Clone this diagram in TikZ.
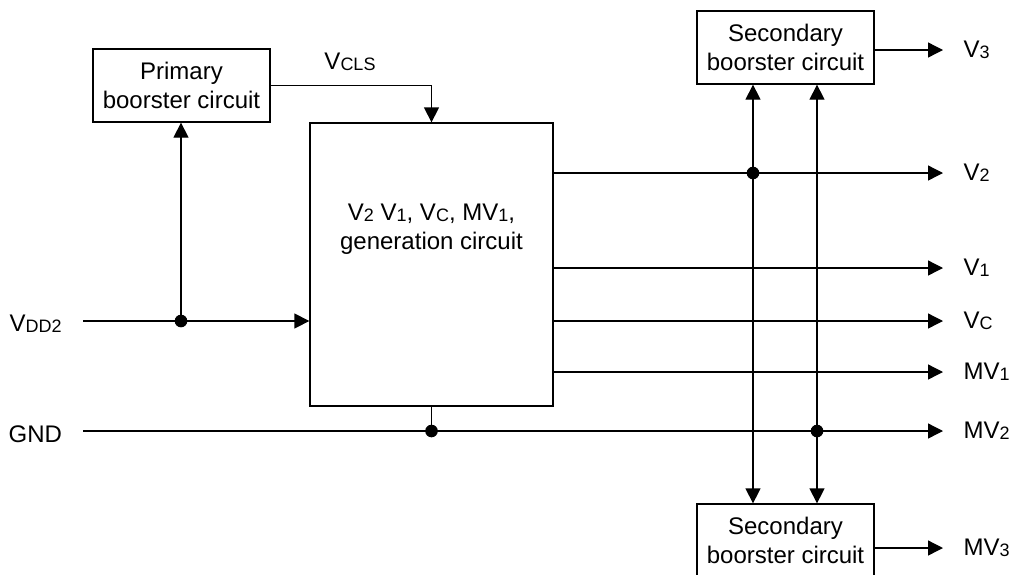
\documentclass[tikz,border=0pt]{standalone}
\usepackage{fontspec}
\setmainfont{Liberation Sans}
\usepackage{tikz}
\usetikzlibrary{arrows.meta,positioning}
% lowered small index, as in V2 or VCLS
\newcommand{\lo}[1]{\raisebox{-0.7pt}{\fontsize{9}{9}\selectfont #1}}
\tikzset{
  gen/.style={
    font=\fontsize{12}{14.5}\selectfont,
    >={Triangle[length=7.5pt,width=7.5pt]},
    line width=0.65pt,
    x=0.5pt, y=-0.5pt
  },
  blk/.style={                     % booster circuit box
    draw, line width=0.65pt,
    align=center,
    inner sep=0pt,
    minimum width=88.5pt,
    minimum height=36.5pt
  },
  bigblk/.style={                  % generation circuit box
    draw, line width=0.65pt,
    inner sep=0pt,
    minimum width=121.5pt,
    minimum height=141.5pt
  },
  sig/.style={->, line width=0.65pt},
  bisig/.style={<->, line width=0.65pt},
  jdot/.style={circle, fill=black, inner sep=0pt, minimum size=6.3pt},
  outlbl/.style={anchor=west, inner sep=0pt},
  inlbl/.style={anchor=west, inner sep=0pt}
}
\begin{document}
\begin{tikzpicture}[gen]
\clip (0,0) rectangle (1011,574);

% boxes
\node[blk] (prim) at (181.5,85.5) {Primary\\boorster circuit};
\node[bigblk] (genc) at (431.5,264.5) {};
\node[align=center, inner sep=0pt] (genlbl) at (431.5,229)
  {V\lo{2} V\lo{1}, V\lo{C}, MV\lo{1},\\generation circuit};
\node[blk] (sectop) at (785.5,47.5) {Secondary\\boorster circuit};
\node[blk] (secbot) at (785.5,540.5) {Secondary\\boorster circuit};

% input side
\node[inlbl] (vdd) at (9,324) {V\lo{DD2}};
\node[inlbl] (gnd) at (8,434) {GND};
\coordinate (vddin) at (83,321);
\coordinate (gndin) at (83,431);
\node[inner sep=0pt] (vcls) at (350,62) {V\lo{CLS}};

% output labels
\node[outlbl] (v3) at (963,50) {V\lo{3}};
\node[outlbl] (v2) at (963,173) {V\lo{2}};
\node[outlbl] (v1) at (963,268) {V\lo{1}};
\node[outlbl] (vc) at (963,321) {V\lo{C}};
\node[outlbl] (mv1) at (963,372) {MV\lo{1}};
\node[outlbl] (mv2) at (963,431) {MV\lo{2}};
\node[outlbl] (mv3) at (963,548) {MV\lo{3}};

% junctions
\node[jdot] (jvdd) at (181,321) {};
\node[jdot] (jgnd) at (431.5,431) {};
\node[jdot] (jv2) at (753,173) {};
\node[jdot] (jmv2) at (817,431) {};

% supply and primary booster
\draw[sig] (vddin) -- (genc.west |- vddin);
\draw[sig] (jvdd.center) -- (prim.south -| jvdd);
\draw[sig] (prim.east) -| (genc.north);
\draw (gndin) -- (jgnd.center);
\draw (genc.south) -- (jgnd.center);
\draw[sig] (jgnd.center) -- ([xshift=-10pt]mv2.west);

% generation circuit outputs
\draw[sig] (genc.east |- v2) -- ([xshift=-10pt]v2.west);
\draw[sig] (genc.east |- v1) -- ([xshift=-10pt]v1.west);
\draw[sig] (genc.east |- vc) -- ([xshift=-10pt]vc.west);
\draw[sig] (genc.east |- mv1) -- ([xshift=-10pt]mv1.west);

% secondary boosters
\draw[bisig] (sectop.south -| jv2) -- (secbot.north -| jv2);
\draw[bisig] (sectop.south -| jmv2) -- (secbot.north -| jmv2);
\draw[sig] (sectop.east |- v3) -- ([xshift=-10pt]v3.west);
\draw[sig] (secbot.east |- mv3) -- ([xshift=-10pt]mv3.west);

\end{tikzpicture}
\end{document}
